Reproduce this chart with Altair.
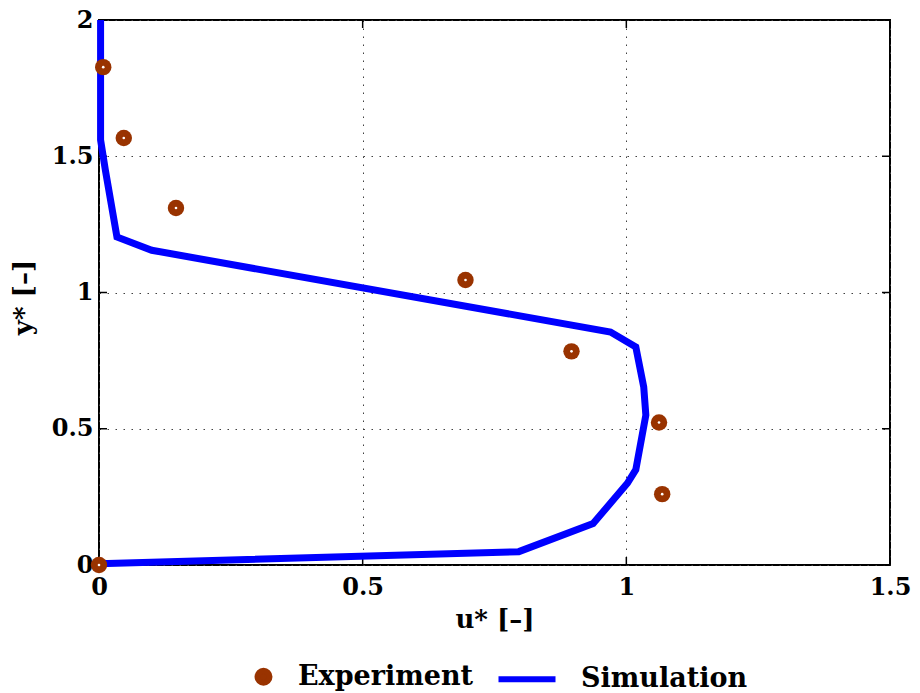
import altair as alt
import pandas as pd

# Experiment points
exp_u = [0.0, 1.068, 1.062, 0.896, 0.695, 0.146, 0.047, 0.008]
exp_y = [0.0, 0.26, 0.523, 0.784, 1.046, 1.31, 1.567, 1.827]

# Simulation profile
sim_u = [0.0, 0.796, 0.937, 1.002, 1.018, 1.037, 1.033, 1.018, 0.970, 0.100, 0.034, 0.012, 0.003, 0.003]
sim_y = [0.005, 0.049, 0.152, 0.300, 0.350, 0.550, 0.653, 0.800, 0.855, 1.155, 1.204, 1.450, 1.560, 2.000]

series_names = ["Experiment", "Simulation"]
series_colors = ["#993300", "#0000ff"]

x_ticks = [0, 0.5, 1, 1.5]
y_ticks = [0, 0.5, 1, 1.5, 2]

FONT = "DejaVu Serif"
W, H = 791, 545
TICK = 8

exp_df = pd.DataFrame({"u": exp_u, "y": exp_y, "series": "Experiment"})
sim_df = pd.DataFrame({"u": sim_u, "y": sim_y, "series": "Simulation",
                       "idx": list(range(len(sim_u)))})
xt_df = pd.DataFrame({"u": x_ticks})
yt_df = pd.DataFrame({"y": y_ticks})

x_scale = alt.Scale(domain=[0, 1.5], nice=False)
y_scale = alt.Scale(domain=[0, 2], nice=False)

x_enc = alt.X("u:Q", scale=x_scale,
              axis=alt.Axis(values=x_ticks, format=".1~f", title="u* [–]",
                            titleX=W / 2, titleY=54, titleBaseline="middle",
                            labelPadding=22, labelBaseline="middle",
                            labelFlush=False))
y_enc = alt.Y("y:Q", scale=y_scale,
              axis=alt.Axis(values=y_ticks, format=".1~f", title="y* [–]",
                            titleX=-76, titleY=277, titleAngle=270,
                            titleAlign="center", titleBaseline="middle",
                            labelPadding=6, labelFlush=False))

color_enc = alt.Color(
    "series:N",
    scale=alt.Scale(domain=series_names, range=series_colors),
    legend=alt.Legend(
        title=None, orient="none", direction="horizontal",
        legendX=151, legendY=643,
        labelFont=FONT, labelFontSize=27, labelFontWeight="bold",
        labelColor="black", labelOffset=21, columnPadding=12, labelLimit=400,
        symbolSize=144, symbolStrokeWidth=6, symbolOpacity=1,
    ),
)
shape_enc = alt.Shape(
    "series:N",
    scale=alt.Scale(domain=series_names, range=["circle", "M-8,0H1.5"]),
    legend=alt.Legend(title=None),
)

# inward ticks on all four sides
tick_style = dict(color="black", strokeWidth=1.5)
xq = alt.X("u:Q", scale=x_scale)
yq = alt.Y("y:Q", scale=y_scale)
ticks_bottom = alt.Chart(xt_df).mark_rule(**tick_style).encode(
    x=xq, y=alt.value(H), y2=alt.value(H - TICK))
ticks_top = alt.Chart(xt_df).mark_rule(**tick_style).encode(
    x=xq, y=alt.value(0), y2=alt.value(TICK))
ticks_left = alt.Chart(yt_df).mark_rule(**tick_style).encode(
    y=yq, x=alt.value(0), x2=alt.value(TICK))
ticks_right = alt.Chart(yt_df).mark_rule(**tick_style).encode(
    y=yq, x=alt.value(W), x2=alt.value(W - TICK))

line = alt.Chart(sim_df).mark_line(strokeWidth=7, clip=False).encode(
    x=x_enc, y=y_enc, color=color_enc, order="idx:Q"
)
points = alt.Chart(exp_df).mark_point(filled=True, size=270, opacity=1).encode(
    x=x_enc, y=y_enc, color=color_enc, shape=shape_enc
)
dots = alt.Chart(exp_df).mark_point(filled=True, size=7, color="white", opacity=1).encode(
    x=x_enc, y=y_enc
)

chart = alt.layer(ticks_bottom, ticks_top, ticks_left, ticks_right,
                  line, points, dots).properties(
    width=W, height=H,
    autosize=alt.AutoSizeParams(type="none"),
    padding={"left": 91, "top": 12, "right": 22, "bottom": 128},
).configure_view(
    stroke="black", strokeWidth=2
).configure_axis(
    domain=False, ticks=False, tickSize=0,
    grid=True, gridColor="#404040", gridDash=[1.5, 6.5], gridWidth=1, gridOpacity=1,
    labelFont=FONT, labelFontSize=24, labelFontWeight="bold", labelColor="black",
    titleFont=FONT, titleFontSize=26, titleFontWeight="bold", titleColor="black",
)

chart.save("out.html", embed_options={"renderer": "svg", "actions": False})
